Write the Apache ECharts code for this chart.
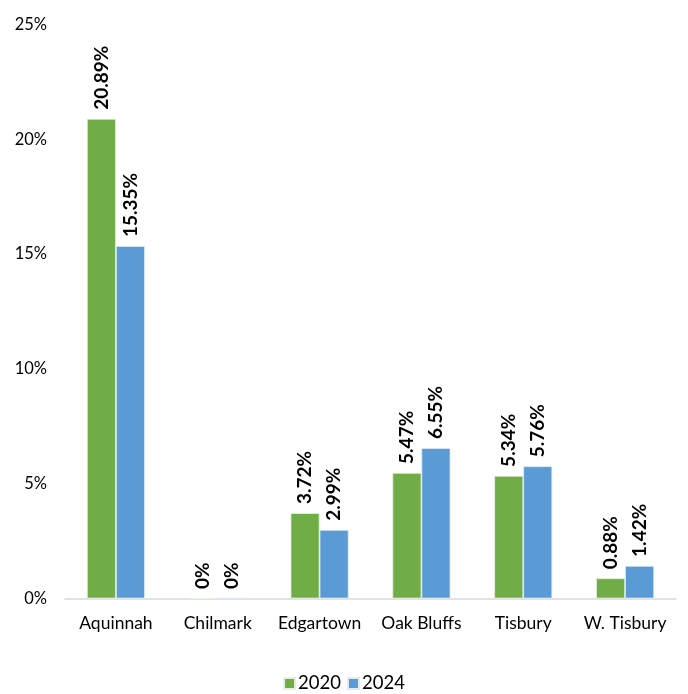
<!DOCTYPE html>
<html><head><meta charset="utf-8">
<script src="https://cdn.jsdelivr.net/npm/echarts@6/dist/echarts.min.js"></script>
<style>html,body{margin:0;padding:0;background:#fff}#c{width:688px;height:694px}</style>
</head><body><div id="c"></div>
<script>
const categories = ['Aquinnah','Chilmark','Edgartown','Oak Bluffs','Tisbury','W. Tisbury'];
const values2020 = [20.89, 0, 3.72, 5.47, 5.34, 0.88];
const values2024 = [15.35, 0, 2.99, 6.55, 5.76, 1.42];
const seriesNames = ['2020','2024'];
const FONT = 'Lato, "Open Sans", sans-serif';
function fmt(v){ return v === 0 ? '0%' : v.toFixed(2) + '%'; }
const labelCfg = {
  show: true, position: 'top', rotate: 90, align: 'left', verticalAlign: 'middle',
  distance: 9, fontFamily: FONT, fontWeight: 'bold', fontSize: 19, color: '#000',
  formatter: p => fmt(p.value)
};
const chart = echarts.init(document.getElementById('c'));
chart.setOption({
  animation: false,
  grid: { left: 65, right: 12, top: 24.5, bottom: 95.5, containLabel: false },
  legend: { bottom: -4, left: 'center', itemWidth: 11, itemHeight: 11, itemGap: 6,
    textStyle: { fontFamily: FONT, fontSize: 18.5, color: '#000', padding: [0,0,0,-2] }, icon: 'rect' },
  xAxis: { type: 'category', data: categories,
    axisLine: { lineStyle: { color: '#d9d9d9', width: 1.5 } }, axisTick: { show: false },
    axisLabel: { interval: 0, fontFamily: FONT, fontSize: 17.5, color: '#000', margin: 16 } },
  yAxis: { type: 'value', min: 0, max: 25, interval: 5,
    axisLine: { show: false }, axisTick: { show: false }, splitLine: { show: false },
    axisLabel: { fontFamily: FONT, fontSize: 16.5, color: '#000', margin: 18, formatter: '{value}%' } },
  series: [
    { name: seriesNames[0], type: 'bar', data: values2020, barWidth: '28.5%', barGap: '0%',
      itemStyle: { color: '#70AD47', borderColor: '#e6f0df', borderWidth: 0.8 }, label: labelCfg },
    { name: seriesNames[1], type: 'bar', data: values2024, barWidth: '28.5%',
      itemStyle: { color: '#5B9BD5', borderColor: '#dfeaf5', borderWidth: 0.8 }, label: labelCfg }
  ]
});
</script></body></html>
